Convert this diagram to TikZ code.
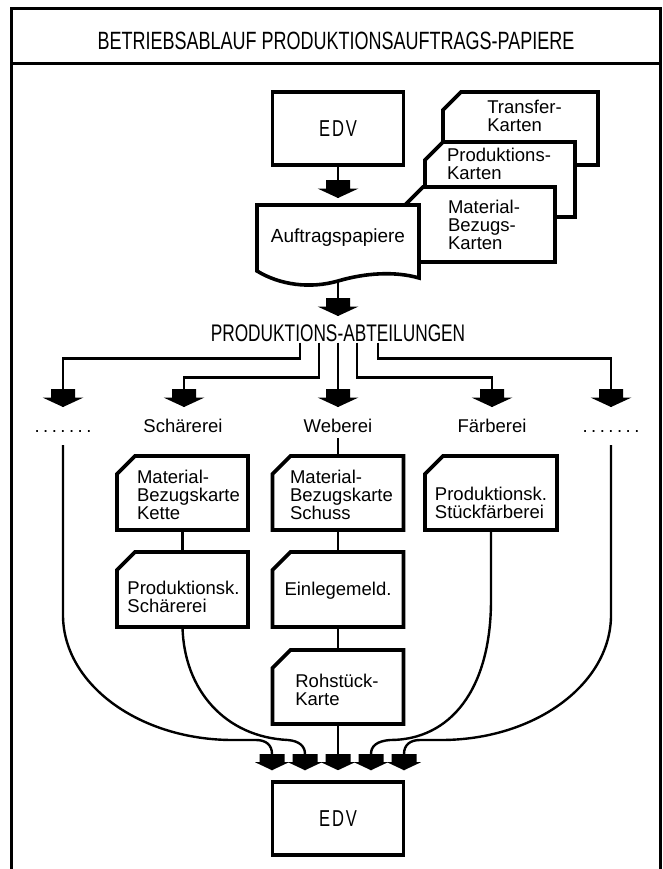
\documentclass[tikz,border=0pt]{standalone}
\usepackage{fontspec}
\setmainfont{Liberation Sans}
\newfontfamily\capsfont{Liberation Sans}[FakeStretch=0.72]
\newfontfamily\edvfont{Liberation Sans}[FakeStretch=0.72, LetterSpace=8]
\usetikzlibrary{calc}

% outline of a punched card with its upper left corner cut off
\newcommand\carddraw[1]{%
  \filldraw[cardline] ([yshift=-18pt]#1.north west) -- ([xshift=18pt]#1.north west)
    -- (#1.north east) -- (#1.south east) -- (#1.south west) -- cycle;}

\begin{document}
\begin{tikzpicture}[x=1pt,y=-1pt,
  every node/.style={font=\fontsize{18.5}{18}\selectfont},
  titletext/.style={font=\capsfont\fontsize{25}{26}\selectfont},
  capstext/.style={font=\capsfont\fontsize{24}{24}\selectfont},
  edvbox/.style={draw, line width=3.6pt, fill=white, minimum width=131pt,
    minimum height=73pt, inner sep=0pt, font=\edvfont\fontsize{23}{23}\selectfont},
  cardspace/.style={inner sep=0pt, outer sep=0pt},
  cardline/.style={line width=3.6pt, fill=white},
  cardtext/.style={align=left, inner sep=0pt},
  conn/.style={line width=2.7pt},
  bendline/.style={line width=2.4pt},
  deptlabel/.style={anchor=base, inner xsep=0pt, inner ysep=6pt},
  bighead/.pic={\fill (-12,-18) -- (12,-18) -- (12,-9.5) -- (20.5,-9.5) -- (0,0)
    -- (-20.5,-9.5) -- (-12,-9.5) -- cycle;},
  smallhead/.pic={\fill (-12.5,-16) -- (12.5,-16) -- (12.5,-8) -- (17,-8) -- (0,0)
    -- (-17,-8) -- (-12.5,-8) -- cycle;}
]
\useasboundingbox (0,0) rectangle (663,869);
\fill[white] (0,0) rectangle (663,869);

% title bar and frame
\draw[line width=3pt] (11,9) rectangle (660,64);
\draw[line width=3pt] (11,64) -- (11,869) (660,64) -- (660,869);
\node[titletext] (title) at (336,41) {BETRIEBSABLAUF PRODUKTIONSAUFTRAGS-PAPIERE};

% computer at the top
\node[edvbox] (edv1) at (338,128.5) {EDV};

% stack of cards
\node[cardspace, minimum width=155pt, minimum height=73pt] (ctr) at (520.5,128.5) {};
\carddraw{ctr}
\node[cardtext, xshift=4pt, yshift=12.5pt] (ctr-t) at (ctr.center) {Transfer-\\Karten};

\node[cardspace, minimum width=150pt, minimum height=75pt] (cpr) at (500,179.5) {};
\carddraw{cpr}
\node[cardtext, xshift=-1pt, yshift=16pt] (cpr-t) at (cpr.center) {Produktions-\\Karten};

\node[cardspace, minimum width=150pt, minimum height=75pt] (cma) at (480,224.5) {};
\carddraw{cma}
\node[cardtext, xshift=4pt] (cma-t) at (cma.center) {Material-\\Bezugs-\\Karten};

% order papers (document symbol)
\node[cardspace, minimum width=162pt, minimum height=66pt] (aufbox) at (338,238) {};
\filldraw[cardline] (aufbox.north west) -- (aufbox.north east) -- (419,278)
  .. controls (395,271) and (365,273) .. (338,281)
  .. controls (310,289) and (280,285) .. (aufbox.south west) -- cycle;
\node[font=\fontsize{19}{19}\selectfont] (auf) at (aufbox.center) {Auftragspapiere};
\coordinate (aufbot) at (338,281);

\coordinate (h1) at (338,198);
\draw[conn] (edv1.south) -- (h1);
\pic at (h1) {bighead};
\coordinate (h2) at (338,316);
\draw[conn] (aufbot) -- (h2);
\pic at (h2) {bighead};

% departments
\node[capstext, inner sep=1pt] (pa) at (338,333) {PRODUKTIONS-ABTEILUNGEN};
\coordinate (t1) at (63,407);
\coordinate (t2) at (184,407);
\coordinate (t3) at (338,407);
\coordinate (t4) at (492,407);
\coordinate (t5) at (611,407);
\draw[conn] ([xshift=-38pt]pa.south) -- ++(0,16) -| (t1);
\draw[conn] ([xshift=-19pt]pa.south) -- ++(0,35) -| (t2);
\draw[conn] (pa.south) -- (t3);
\draw[conn] ([xshift=19pt]pa.south) -- ++(0,35) -| (t4);
\draw[conn] ([xshift=40pt]pa.south) -- ++(0,16) -| (t5);
\foreach \t in {t1,t2,t3,t4,t5} \pic at (\t) {bighead};

\node[deptlabel, inner ysep=13pt] (d1) at (63,432)
  {\makebox[57pt][s]{.\hfill.\hfill.\hfill.\hfill.\hfill.\hfill.}};
\node[deptlabel] (sch) at (183,432) {Schärerei};
\node[deptlabel] (web) at (338,432) {Weberei};
\node[deptlabel] (far) at (492,432) {Färberei};
\node[deptlabel, inner ysep=13pt] (d5) at (611,432)
  {\makebox[57pt][s]{.\hfill.\hfill.\hfill.\hfill.\hfill.\hfill.}};

% cards of the departments
\node[cardspace, minimum width=131pt, minimum height=74pt] (k1) at (182.5,493) {};
\carddraw{k1}
\node[cardtext, xshift=6pt, yshift=-2pt] (k1-t) at (k1.center) {Material-\\Bezugskarte\\Kette};

\node[cardspace, minimum width=131pt, minimum height=75pt] (k2) at (182.5,589.5) {};
\carddraw{k2}
\node[cardtext, xshift=1pt, yshift=-7pt] (k2-t) at (k2.center) {Produktionsk.\\Schärerei};

\node[cardspace, minimum width=131pt, minimum height=74pt] (w1) at (338,493) {};
\carddraw{w1}
\node[cardtext, xshift=3.5pt, yshift=-2pt] (w1-t) at (w1.center) {Material-\\Bezugskarte\\Schuss};

\node[cardspace, minimum width=131pt, minimum height=75pt] (w2) at (338,589.5) {};
\carddraw{w2}
\node[cardtext, yshift=-1pt] (w2-t) at (w2.center) {Einlegemeld.};

\node[cardspace, minimum width=131pt, minimum height=74pt] (w3) at (338,687) {};
\carddraw{w3}
\node[cardtext, xshift=-1pt, yshift=-3pt] (w3-t) at (w3.center) {Rohstück-\\Karte};

\node[cardspace, minimum width=132pt, minimum height=74pt] (f1) at (491,493) {};
\carddraw{f1}
\node[cardtext, yshift=-10pt] (f1-t) at (f1.center) {Produktionsk.\\Stückfärberei};

\draw[conn] (web.south) -- (w1.north);
\draw[conn] (k1.south) -- (k2.north);
\draw[conn] (w1.south) -- (w2.north);
\draw[conn] (w2.south) -- (w3.north);

% computer at the bottom
\node[edvbox] (edv2) at (338,818.5) {EDV};
\coordinate (e1) at ([xshift=-66pt,yshift=10pt]edv2.north);
\coordinate (e2) at ([xshift=-33pt,yshift=10pt]edv2.north);
\coordinate (e3) at ([yshift=10pt]edv2.north);
\coordinate (e4) at ([xshift=33pt,yshift=10pt]edv2.north);
\coordinate (e5) at ([xshift=66pt,yshift=10pt]edv2.north);

\draw[conn] (w3.south) -- (e3);
\draw[bendline] (d1.south) -- (63,615) .. controls (63,684) and (139,740) .. (233,740)
  -- (256,740) .. controls (266,740) and (272,745) .. (272,754) -- (e1);
\draw[bendline] (k2.south) .. controls (184,690) and (225,737) .. (288,740)
  .. controls (299,741) and (305,746) .. (305,754) -- (e2);
\draw[bendline] (f1.south) -- (491,600) .. controls (491,690) and (450,740) .. (390,740)
  .. controls (377,741) and (371,746) .. (371,754) -- (e4);
\draw[bendline] (d5.south) -- (611,615) .. controls (611,684) and (535,740) .. (441,740)
  -- (420,740) .. controls (410,740) and (404,745) .. (404,754) -- (e5);
\foreach \e in {e1,e2,e3,e4,e5} \pic at (\e) {smallhead};
\end{tikzpicture}
\end{document}
